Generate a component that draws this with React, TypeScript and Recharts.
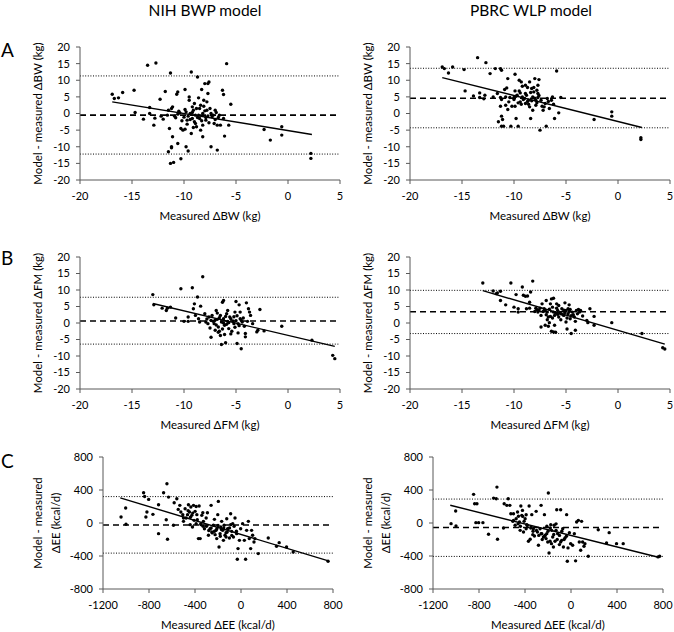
import React from "react";
import {
  Label,
  ReferenceLine,
  Scatter,
  ScatterChart,
  XAxis,
  YAxis,
} from "recharts";

type Pt = [number, number];

// --- data ---
const kgTicks = [-20, -15, -10, -5, 0, 5, 10, 15, 20];
const kgXTicks = [-20, -15, -10, -5, 0, 5];
const eeYTicks = [-800, -400, 0, 400, 800];
const eeXTicks = [-1200, -800, -400, 0, 400, 800];

const nihBW: Pt[] = [
  [-16.9, 5.8], [-16.7, 4.5], [-16.3, 4.7], [-15.9, 6.3], [-14.8, 7.0], [-14.7, 0.3],
  [-13.9, -1.7], [-13.5, 14.5], [-13.3, 1.8], [-13.3, 0], [-12.9, -3.5], [-12.8, -1.4],
  [-12.7, 15.2], [-12.3, 4.3], [-12.0, -1.7], [-11.8, 6.6], [-11.6, -0.5], [-11.5, -11.5],
  [-11.4, -4.5], [-11.3, -15], [-11.3, 12.2], [-11.2, 1.5], [-11.2, -10], [-11.2, -10.3],
  [-11.1, -7], [-11.1, 2], [-11.0, -14.7], [-10.9, -0.8], [-10.8, -1.3], [-10.7, 5.8],
  [-10.6, -9], [-10.6, 6.5], [-10.5, 0.7], [-10.3, -13.6], [-10.3, -4.5], [-10.1, -5],
  [-10.0, -1.1], [-9.9, -4.7], [-9.9, 7.2], [-9.8, -10], [-9.7, -2], [-9.6, -11.3],
  [-9.5, 5], [-9.5, 4], [-9.4, 0], [-9.3, 12.5], [-9.3, -6], [-9.2, 2], [-9.2, -1.5],
  [-9.1, 1], [-9.0, 3], [-8.9, -0.5], [-8.9, -3], [-8.8, -4], [-8.7, 11], [-8.6, 4.7],
  [-8.5, 1.5], [-8.5, -1.5], [-8.4, -5], [-8.3, 7.2], [-8.2, 0], [-8.2, -7], [-8.1, 4],
  [-8.0, 9], [-7.9, -2], [-7.8, 1], [-7.7, 9], [-7.7, 6], [-7.6, 9.5], [-7.5, 1.5],
  [-7.4, -10], [-7.3, -1], [-7.1, -3], [-7.0, 1], [-6.8, -11], [-6.8, -3.5], [-6.6, -0.5],
  [-6.5, -3.5], [-6.3, 7], [-6.2, 5.7], [-6.2, -1.5], [-6.1, -6.8], [-5.9, 15], [-5.7, -3.5],
  [-5.5, 2.8], [-2.3, -4.8], [-1.7, -8], [-0.6, -4], [-0.6, -6.5], [2.2, -12], [2.2, -13.5],
  [-9.8, 0.5], [-9.6, -0.8], [-9.4, -1.8], [-9.2, 0.3], [-9.0, -2.5], [-8.8, 1.5],
  [-8.6, -0.5], [-8.4, 2.5], [-8.2, -3.5], [-8.0, 0.8], [-7.9, -1.2], [-7.8, 3.5],
  [-7.6, -2.8], [-7.4, 0], [-7.2, -0.5], [-10.2, -2.2], [-10.4, 0.2], [-9.7, -3.2],
  [-9.1, -4.2], [-8.7, -1.2], [-8.3, -2.2], [-8.1, 2.2], [-7.7, -0.7], [-7.0, -1.8],
  [-6.9, 0.3], [-6.7, -1.2], [-9.9, 1.2], [-10.6, -0.2], [-11.5, 1], [-12.2, -0.8],
];

const pbrcBW: Pt[] = [
  [-16.9, 14], [-16.7, 13.5], [-16.3, 12.2], [-15.9, 14], [-14.8, 13.2], [-14.7, 6.8],
  [-13.9, 5.3], [-13.5, 16.8], [-13.3, 6.2], [-13.3, 4.8], [-12.9, 4.4], [-12.8, 5.5],
  [-12.7, 15.3], [-12.3, 12], [-12.0, 5], [-11.8, 13.5], [-11.6, 6], [-11.5, -2.5],
  [-11.3, 2.2], [-11.3, 13.5], [-11.2, 13], [-11.2, 4.2], [-11.2, -0.8], [-11.2, -3.8],
  [-11.1, -1.8], [-11.0, -3.8], [-10.9, 7.2], [-10.8, 5], [-10.7, 7.7], [-10.6, 1.2],
  [-10.6, 10.5], [-10.5, 3.5], [-10.3, -3.8], [-10.2, 2.2], [-10.0, 4.8], [-9.9, 2.2],
  [-9.9, 11.8], [-9.8, -1.5], [-9.7, 5.5], [-9.6, -3.8], [-9.5, 10], [-9.5, 6.8],
  [-9.4, 3.5], [-9.3, 9.5], [-9.2, 5], [-9.2, 8.2], [-9.0, 4.5], [-8.9, 6], [-8.9, 3],
  [-8.7, 7.8], [-8.6, 4], [-8.5, 9.5], [-8.5, 2], [-8.4, -1.5], [-8.3, 7.5], [-8.2, 5],
  [-8.2, 1], [-8.1, 7.8], [-8.0, 10.5], [-7.9, 4], [-7.8, 7], [-7.7, 6], [-7.7, 8.5],
  [-7.6, 10.2], [-7.5, -5], [-7.4, 4], [-7.2, 1], [-7.0, 3], [-6.9, -3.8], [-6.8, 4.5],
  [-6.6, 1.5], [-6.4, 4], [-6.3, 5], [-6.2, 2.8], [-6.1, -1.5], [-5.9, 12.8], [-5.7, 0.2],
  [-5.5, 4.8], [-2.3, -1.8], [-0.6, 0.5], [-0.6, -0.8], [2.2, -7.3], [2.2, -7.8],
  [-10.0, 4.2], [-9.8, 5.2], [-9.6, 3.2], [-9.4, 6.2], [-9.1, 4.2], [-8.8, 5.5],
  [-8.6, 2.8], [-8.3, 3.8], [-8.0, 4.6], [-7.8, 3.2], [-7.6, 5.4], [-7.3, 2.2],
  [-10.4, 4.8], [-9.9, 6.8], [-8.9, 8.5], [-8.1, 6.5], [-7.9, 2.5], [-7.1, 2],
  [-6.7, 3.6], [-10.8, 2.5], [-11.3, 4.8], [-9.3, 2.8], [-8.7, 3.6], [-8.4, 6.3], [-7.7, 4.8],
];

const nihFM: Pt[] = [
  [-13.0, 8.6], [-12.9, 5.5], [-12.1, 4.5], [-11.7, 3.8], [-11.6, 4.5], [-11.3, 4.8],
  [-10.8, 1.5], [-10.3, 10.4], [-10.0, 0.5], [-9.6, 1.8], [-9.6, 0.5], [-9.2, 10.7],
  [-9.1, 4.3], [-9.0, 5.8], [-8.9, 2.3], [-8.7, 7.9], [-8.6, 1.3], [-8.5, 0.3], [-8.4, 5.1],
  [-8.2, 14], [-7.9, 0.3], [-7.7, -0.2], [-7.6, 1.8], [-7.4, 0.8], [-7.4, -4.3], [-7.3, 2.3],
  [-7.1, -0.2], [-7.0, -2.2], [-6.9, 3.8], [-6.8, 1.1], [-6.7, -1.2], [-6.6, -2.5],
  [-6.5, 2.3], [-6.4, 0.3], [-6.4, -6.5], [-6.3, 6.3], [-6.2, 1.3], [-6.2, 6.8],
  [-6.1, -0.7], [-6.1, -3.5], [-6.0, -6.0], [-5.9, 2.8], [-5.8, 0.5], [-5.7, -1.7],
  [-5.7, 0.1], [-5.5, 1.3], [-5.4, -2.5], [-5.2, -0.2], [-5.1, 3.3], [-5.0, 0.7],
  [-5.0, 6.5], [-4.9, -6.2], [-4.8, -0.2], [-4.8, -3], [-4.7, 5.5], [-4.6, 1.3],
  [-4.6, 3.3], [-4.5, -7.8], [-4.4, 0.3], [-4.2, -1], [-4.1, -3.2], [-4.1, -4.2],
  [-4.0, 6.1], [-3.9, 0.5], [-3.8, 4.3], [-3.7, 3.3], [-3.6, 2.3], [-3.4, -0.2],
  [-3.0, -2.7], [-2.9, -2.2], [-2.7, 4.1], [-2.3, -2.4], [-0.6, -1], [2.3, -5.2],
  [4.3, -9.8], [4.5, -10.8],
  [-7.8, 1.2], [-7.2, 0.5], [-6.9, -0.6], [-6.6, 1.6], [-6.3, -1.8], [-6.0, 2],
  [-5.9, -0.4], [-5.6, 1.8], [-5.3, 0.6], [-5.1, -1.3], [-4.9, 2.2], [-4.7, -0.8],
  [-4.3, 1.5], [-7.5, -1.5], [-6.8, 3], [-6.2, 0], [-5.5, -3.3], [-7.0, 0.9],
  [-6.5, -3.8], [-5.8, 3.8], [-4.5, 0.9], [-8.0, 2.8], [-6.7, -2.8], [-5.2, 1.9],
];

const pbrcFM: Pt[] = [
  [-13.0, 12.1], [-12.0, 9.7], [-11.7, 8.9], [-11.6, 9.1], [-11.3, 9.6], [-11.3, 6.8],
  [-10.8, 5.5], [-10.3, 12.1], [-10.0, 4.8], [-9.8, 8.6], [-9.6, 4.3], [-9.6, 3.3],
  [-9.2, 10.9], [-9.1, 8.4], [-8.9, 8.1], [-8.8, 4.3], [-8.7, 8.2], [-8.5, 6.3], [-8.5, 4.5],
  [-8.4, 9.4], [-8.2, 12.7], [-7.9, 4.5], [-7.7, 3.3], [-7.6, 3.8], [-7.4, 2.3], [-7.4, -1.2],
  [-7.3, 5.8], [-7.1, 4.3], [-7.0, -0.7], [-6.9, 6.8], [-6.8, 3.3], [-6.7, 1.8], [-6.6, 0.1],
  [-6.5, 5.8], [-6.4, -2.5], [-6.4, 7.3], [-6.3, 4.8], [-6.2, 3.3], [-6.2, 7.5], [-6.1, 2.3],
  [-6.1, -0.7], [-6.0, -2.8], [-5.9, 5.8], [-5.8, 3.8], [-5.7, 1.8], [-5.7, 5.3],
  [-5.5, 2.8], [-5.4, 4.3], [-5.2, 2.3], [-5.1, 6.1], [-5.0, 3.8], [-5.0, 0.3], [-4.9, -1.8],
  [-4.8, 4.3], [-4.8, 2.8], [-4.7, 5.5], [-4.6, 1.3], [-4.6, 4.1], [-4.5, -3.2], [-4.4, 3.3],
  [-4.2, 1.8], [-4.1, 0.5], [-4.1, -2.2], [-4.0, 3.8], [-3.9, 2.8], [-3.8, 4.1], [-3.7, 3.3],
  [-3.6, 3.8], [-3.4, 2.1], [-3.0, 0.8], [-2.9, 0.1], [-2.7, 4.3], [-2.3, 2], [-2.3, -0.7],
  [-0.6, 0.1], [2.3, -3.2], [4.3, -7.5], [4.5, -7.9],
  [-7.8, 4], [-7.2, 3.5], [-6.9, 2.5], [-6.6, 4.2], [-6.3, 1.5], [-6.0, 3], [-5.9, 4.5],
  [-5.6, 3.2], [-5.3, 2.5], [-5.1, 3.2], [-4.9, 1.5], [-4.7, 3.5], [-4.3, 2.5], [-7.5, 4.5],
  [-6.8, 1], [-6.2, -2.7], [-5.5, 1], [-7.0, 3.8], [-6.5, 2], [-5.8, 2.6], [-4.5, 2.2],
  [-8.0, 3.5], [-6.7, -1], [-5.2, 3.9],
];

const nihEE: Pt[] = [
  [-1043, 73], [-1003, 181], [-1000, -16], [-847, 367], [-838, 322], [-827, 73], [-818, 133],
  [-803, 286], [-766, 105], [-717, -129], [-717, 222], [-673, 367], [-650, 40], [-644, 476],
  [-639, -197], [-630, 314], [-587, -28], [-581, 246], [-558, 294], [-546, 165], [-532, 214],
  [-523, 133], [-506, 101], [-500, 20], [-486, 173], [-477, 61], [-465, 101], [-457, 222],
  [-448, 133], [-442, -20], [-436, 194], [-428, 93], [-422, -48], [-413, 214], [-408, 32],
  [-399, 141], [-390, -8], [-384, 101], [-370, -189], [-364, 206], [-355, -189], [-347, -20],
  [-341, 93], [-332, 125], [-327, 20], [-318, -69], [-303, 61], [-292, 125], [-283, -149],
  [-269, -69], [-260, 214], [-254, -109], [-240, -28], [-231, 44], [-225, -141], [-217, -89],
  [-211, -189], [-202, 101], [-197, 262], [-191, -290], [-182, -129], [-176, -48], [-168, 20],
  [-159, -89], [-153, -210], [-147, -28], [-139, -149], [-130, -117], [-124, 52], [-116, -69],
  [-101, -181], [-90, 113], [-81, -101], [-72, -8], [-66, -169], [-52, 61], [-38, -129],
  [-32, -439], [-26, -310], [-14, -210], [-3, -69], [14, -8], [29, -210], [40, -439],
  [49, -89], [64, 20], [72, -189], [84, -310], [92, -89], [101, -149], [113, -230],
  [121, -189], [150, -371], [237, -181], [309, -282], [332, -238], [396, -290], [454, -351],
  [757, -463],
  [-500, 60], [-460, 150], [-420, 120], [-380, 40], [-350, -10], [-300, -40], [-260, -60],
  [-230, -100], [-200, -30], [-180, -160], [-150, -60], [-120, -110], [-100, -60], [-80, -150],
  [-60, -40], [-40, -100], [-250, -120], [-210, -70], [-170, -80], [-130, -170], [-440, 70],
  [-390, 200], [-330, -40], [-280, -90], [-90, -20],
];

const pbrcEE: Pt[] = [
  [-1043, -8], [-1003, 145], [-1000, -36], [-847, 347], [-838, 234], [-827, 4], [-818, 234],
  [-803, 4], [-766, 4], [-717, -137], [-673, 302], [-650, 294], [-644, 435], [-639, -197],
  [-587, -60], [-581, 234], [-558, 214], [-546, 294], [-532, 214], [-523, 113], [-506, 20],
  [-500, 113], [-486, -28], [-477, 52], [-465, 133], [-457, 81], [-448, 12], [-442, -89],
  [-436, 206], [-428, 93], [-422, 153], [-413, -109], [-408, 20], [-399, 52], [-390, -69],
  [-384, -20], [-370, -222], [-364, 206], [-355, -197], [-347, -48], [-341, 101], [-332, -141],
  [-327, -69], [-318, -157], [-303, 141], [-292, -109], [-283, -270], [-269, -69], [-260, 214],
  [-254, -129], [-240, -169], [-231, 101], [-225, -149], [-217, -189], [-211, -129],
  [-202, -230], [-197, 363], [-191, -363], [-182, -222], [-176, -20], [-168, -89],
  [-159, -169], [-153, -290], [-147, -28], [-139, -222], [-130, -89], [-124, 161],
  [-116, -129], [-101, -262], [-90, 161], [-81, -210], [-72, -69], [-66, -290], [-52, -181],
  [-38, 101], [-32, -463], [-26, -302], [-14, -117], [-3, -250], [14, -270], [29, -129],
  [40, -459], [49, 12], [64, 32], [72, -230], [84, -330], [92, 20], [101, -230], [113, -282],
  [121, -250], [150, -403], [237, -81], [332, -117], [309, -242], [396, -250], [454, -250],
  [757, -411], [771, -403],
  [-500, 30], [-460, -10], [-420, 80], [-380, -30], [-350, -60], [-300, -90], [-260, -130],
  [-230, -160], [-200, -100], [-180, -60], [-150, -140], [-120, -200], [-100, -150],
  [-80, -100], [-60, -200], [-40, -160], [-250, -200], [-210, -40], [-170, -250],
  [-130, -10], [-440, -40], [-390, 100], [-330, -100], [-280, -150], [-90, -230],
];

// regression line ends
const nihBWFit: Pt[] = [[-16.9, 3.5], [2.3, -6.3]];
const pbrcBWFit: Pt[] = [[-16.9, 10.8], [2.3, -4.2]];
const nihFMFit: Pt[] = [[-13.0, 5.9], [4.5, -7.1]];
const pbrcFMFit: Pt[] = [[-13.0, 9.8], [4.5, -6.4]];
const nihEEFit: Pt[] = [[-1050, 305], [760, -460]];
const pbrcEEFit: Pt[] = [[-1050, 215], [760, -415]];

// [mean bias, upper limit, lower limit]
const nihBWBias = [-0.5, 11.3, -12.2];
const pbrcBWBias = [4.6, 13.6, -4.3];
const nihFMBias = [0.6, 7.8, -6.4];
const pbrcFMBias = [3.4, 9.9, -3.2];
const nihEEBias = [-25, 320, -365];
const pbrcEEBias = [-55, 290, -405];

const FONT = "Lato, 'Open Sans', sans-serif";
const AXIS = "#595959";

type PanelProps = {
  left: number;
  top: number;
  plotLeft: number;
  plotWidth: number;
  plotHeight: number;
  points: Pt[];
  fit: Pt[];
  bias: number[];
  xDomain: [number, number];
  yDomain: [number, number];
  xTicks: number[];
  yTicks: number[];
  xTitle: string;
  yTitle: string[];
};

const dot = (p: any) => <circle cx={p.cx} cy={p.cy} r={1.7} fill="#000" />;

function Panel(p: PanelProps) {
  const mTop = 10;
  const mRight = 14;
  const xAxisH = 44;
  const data = p.points.map(([x, y]) => ({ x, y }));
  const fit = p.fit.map(([x, y]) => ({ x, y }));
  return (
    <div style={{ position: "absolute", left: p.left, top: p.top - mTop }}>
      <ScatterChart
        width={p.plotLeft + p.plotWidth + mRight}
        height={p.plotHeight + mTop + xAxisH}
        margin={{ top: mTop, right: mRight, bottom: 0, left: 0 }}
      >
        <XAxis
          type="number"
          dataKey="x"
          domain={p.xDomain}
          ticks={p.xTicks}
          interval={0}
          height={xAxisH}
          stroke={AXIS}
          tickSize={4}
          tickMargin={8}
          tick={{ fill: "#000", fontSize: 11, fontFamily: FONT }}
          allowDataOverflow
        >
          <Label
            content={({ viewBox }: any) => (
              <text
                x={viewBox.x + viewBox.width / 2}
                y={viewBox.y + 35}
                textAnchor="middle"
                dominantBaseline="central"
                fontSize={11.5}
                fontFamily={FONT}
                fill="#000"
              >
                {p.xTitle}
              </text>
            )}
          />
        </XAxis>
        <YAxis
          type="number"
          dataKey="y"
          domain={p.yDomain}
          ticks={p.yTicks}
          interval={0}
          width={p.plotLeft}
          stroke={AXIS}
          tickSize={4}
          tickMargin={6}
          tick={{ fill: "#000", fontSize: 11, fontFamily: FONT }}
          allowDataOverflow
        >
          <Label
            content={({ viewBox }: any) => {
              const ax = viewBox.x + viewBox.width;
              const cy = viewBox.y + viewBox.height / 2;
              const offs = p.yTitle.length > 1 ? [66, 48] : [43];
              return (
                <g>
                  {p.yTitle.map((line, i) => (
                    <text
                      key={i}
                      x={ax - offs[i]}
                      y={cy}
                      transform={`rotate(-90, ${ax - offs[i]}, ${cy})`}
                      textAnchor="middle"
                      dominantBaseline="central"
                      fontSize={11.5}
                      fontFamily={FONT}
                      fill="#000"
                    >
                      {line}
                    </text>
                  ))}
                </g>
              );
            }}
          />
        </YAxis>
        <ReferenceLine y={p.bias[1]} stroke="#000" strokeWidth={1} strokeDasharray="1 1.6" />
        <ReferenceLine y={p.bias[2]} stroke="#000" strokeWidth={1} strokeDasharray="1 1.6" />
        <ReferenceLine y={p.bias[0]} stroke="#000" strokeWidth={1.6} strokeDasharray="6 4" />
        <Scatter data={data} shape={dot} isAnimationActive={false} />
        <Scatter
          data={fit}
          line={{ stroke: "#000", strokeWidth: 1.4 }}
          shape={() => null}
          isAnimationActive={false}
        />
      </ScatterChart>
    </div>
  );
}

export default function App() {
  const kg = { xDomain: [-20, 5] as [number, number], yDomain: [-20, 20] as [number, number], xTicks: kgXTicks, yTicks: kgTicks };
  const ee = { xDomain: [-1200, 800] as [number, number], yDomain: [-800, 800] as [number, number], xTicks: eeXTicks, yTicks: eeYTicks };
  return (
    <div style={{ position: "absolute", left: 0, top: 0, width: 674, height: 632, background: "#fff", overflow: "hidden" }}>
      <svg width={674} height={70} style={{ position: "absolute", left: 0, top: 0, zIndex: 2, overflow: "visible" }}>
        <g fontFamily={FONT} fill="#000">
          <text x={205} y={16} fontSize={15.5} textAnchor="middle">NIH BWP model</text>
          <text x={531} y={16} fontSize={15.5} textAnchor="middle">PBRC WLP model</text>
          <text x={1} y={57} fontSize={19}>A</text>
          <text x={1} y={265} fontSize={19}>B</text>
          <text x={1} y={468} fontSize={19}>C</text>
        </g>
      </svg>

      <Panel left={0} top={47} plotLeft={80} plotWidth={260} plotHeight={133} points={nihBW} fit={nihBWFit} bias={nihBWBias} {...kg} xTitle="Measured ΔBW (kg)" yTitle={["Model - measured ΔBW (kg)"]} />
      <Panel left={330} top={47} plotLeft={80} plotWidth={260} plotHeight={133} points={pbrcBW} fit={pbrcBWFit} bias={pbrcBWBias} {...kg} xTitle="Measured ΔBW (kg)" yTitle={["Model - measured ΔBW (kg)"]} />
      <Panel left={0} top={257} plotLeft={80} plotWidth={260} plotHeight={132} points={nihFM} fit={nihFMFit} bias={nihFMBias} {...kg} xTitle="Measured ΔFM (kg)" yTitle={["Model - measured ΔFM (kg)"]} />
      <Panel left={330} top={257} plotLeft={80} plotWidth={260} plotHeight={132} points={pbrcFM} fit={pbrcFMFit} bias={pbrcFMBias} {...kg} xTitle="Measured ΔFM (kg)" yTitle={["Model - measured ΔFM (kg)"]} />
      <Panel left={0} top={457} plotLeft={103} plotWidth={230} plotHeight={132} points={nihEE} fit={nihEEFit} bias={nihEEBias} {...ee} xTitle="Measured ΔEE (kcal/d)" yTitle={["Model - measured", "ΔEE (kcal/d)"]} />
      <Panel left={330} top={457} plotLeft={103} plotWidth={230} plotHeight={132} points={pbrcEE} fit={pbrcEEFit} bias={pbrcEEBias} {...ee} xTitle="Measured ΔEE (kcal/d)" yTitle={["Model - measured", "ΔEE (kcal/d)"]} />
    </div>
  );
}
